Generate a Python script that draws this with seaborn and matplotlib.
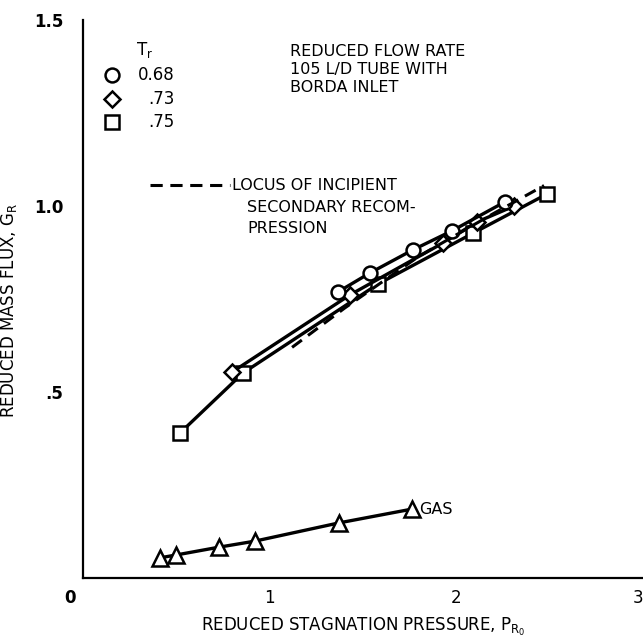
import matplotlib
matplotlib.use("Agg")
import matplotlib.pyplot as plt
import seaborn as sns
import pandas as pd

sns.set_theme(style="white")
plt.rcParams['font.family'] = ['Liberation Sans Narrow', 'DejaVu Sans']
plt.rcParams['text.color'] = 'black'
plt.rcParams['axes.labelcolor'] = 'black'
plt.rcParams['xtick.color'] = 'black'
plt.rcParams['ytick.color'] = 'black'

# data
circ_x = [1.366, 1.537, 1.767, 1.976, 2.26]
circ_y = [0.769, 0.820, 0.882, 0.933, 1.011]
diam_x = [0.80, 1.43, 1.93, 2.11, 2.31]
diam_y = [0.554, 0.761, 0.901, 0.957, 1.000]
sq_x = [0.52, 0.857, 1.58, 2.09, 2.485]
sq_y = [0.39, 0.551, 0.790, 0.927, 1.032]
locus_x = [1.12, 1.40, 1.80, 2.20, 2.47]
locus_y = [0.62, 0.725, 0.865, 0.98, 1.055]
gas_x = [0.41, 0.50, 0.73, 0.92, 1.37, 1.76]
gas_y = [0.054, 0.062, 0.083, 0.099, 0.148, 0.185]
x_ticks = [1, 2, 3]
x_tick_labels = ["1", "2", "3"]
y_ticks = [0.5, 1.0, 1.5]
y_tick_labels = [".5", "1.0", "1.5"]
legend_labels = ["0.68", ".73", ".75"]

fig = plt.figure(figsize=(6.43, 6.41), dpi=100)
ax = fig.add_axes([83/643, 1-578/641, 560/643, 558/641])

lw = 2.4
mk = dict(markerfacecolor="white", markeredgecolor="black", markeredgewidth=1.8)

def series(x, y, marker, ms):
    df = pd.DataFrame({"x": x, "y": y})
    sns.lineplot(data=df, x="x", y="y", ax=ax, color="black", lw=lw, sort=False,
                 marker=marker, markersize=ms, **mk)

series(sq_x, sq_y, "s", 10)
series(diam_x, diam_y, "D", 8.5)
series(circ_x, circ_y, "o", 10)
series(gas_x, gas_y, "^", 11)
sns.lineplot(x=locus_x, y=locus_y, ax=ax, color="black", lw=2.2, linestyle=(0, (4, 2.5)), sort=False)

ax.set_xlim(0, 3)
ax.set_ylim(0, 1.5)
for s in ["top", "right"]:
    ax.spines[s].set_visible(False)
for s in ["left", "bottom"]:
    ax.spines[s].set_color("black")
    ax.spines[s].set_linewidth(1.6)

ax.set_xticks(x_ticks)
ax.set_xticklabels(x_tick_labels, fontsize=12)
ax.get_xticklabels()[-1].set_horizontalalignment("right")
ax.set_yticks(y_ticks)
ax.set_yticklabels(y_tick_labels, fontsize=12, fontweight="bold")
ax.tick_params(axis="x", direction="in", length=17, width=1.4, pad=8)
ax.tick_params(axis="y", direction="in", length=22, width=1.4, pad=14)
ax.text(-0.07, -0.055, "0", fontsize=12, fontweight="bold", ha="center", va="center")

ax.set_xlabel("REDUCED STAGNATION PRESSURE, $\\mathregular{P_{R_0}}$", fontsize=12, labelpad=6)
ax.set_ylabel("REDUCED MASS FLUX, $\\mathregular{G_R}$", fontsize=12, labelpad=10)
ax.yaxis.set_label_coords(-0.115, 0.48)

# legend block
ax.text(0.33, 1.42, "T$\\mathregular{_r}$", fontsize=12, ha="center", va="center")
leg_markers = ["o", "D", "s"]
leg_ys = [1.352, 1.287, 1.227]
leg_ms = [10, 8.5, 10]
for m, yy, lab, ms in zip(leg_markers, leg_ys, legend_labels, leg_ms):
    ax.plot([0.155], [yy], marker=m, markersize=ms, linestyle="none", **mk)
    ax.text(0.49, yy, lab, fontsize=12, ha="right", va="center")

ax.text(1.11, 1.435, "REDUCED FLOW RATE\n105 L/D TUBE WITH\nBORDA INLET",
        fontsize=11.5, ha="left", va="top", linespacing=1.25)

ax.plot([0.36, 0.79], [1.056, 1.056], color="black", lw=2.2, linestyle=(0, (4, 2.5)))
ax.text(0.80, 1.056, "LOCUS OF INCIPIENT", fontsize=11.5, ha="left", va="center")
ax.text(0.88, 0.997, "SECONDARY RECOM-", fontsize=11.5, ha="left", va="center")
ax.text(0.88, 0.94, "PRESSION", fontsize=11.5, ha="left", va="center")

ax.text(1.80, 0.185, "GAS", fontsize=11.5, ha="left", va="center")

fig.savefig("out.png", dpi=100)
